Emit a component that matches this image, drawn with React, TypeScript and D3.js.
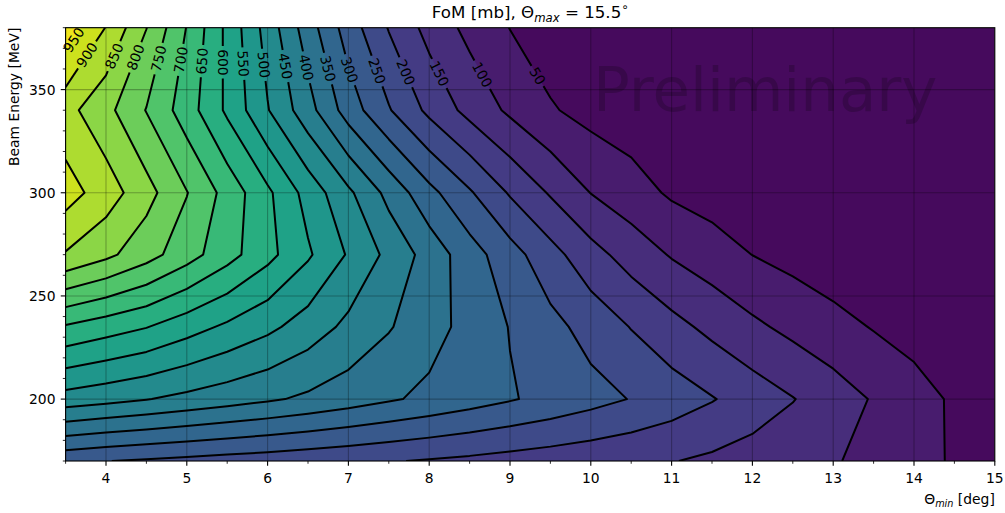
import React from "react";
import * as d3 from "d3";

// Grid of Θ_min (deg) columns and beam-energy (MeV) rows
const THETA = [3.5, 4.0, 4.5, 5.0, 5.5, 6.0, 6.5, 7.0, 7.5, 8.0, 8.5, 9.0, 9.5, 10.0, 10.5, 11.0, 11.5, 12.0, 12.5, 13.0, 13.5, 14.0, 14.5, 15.0];
const ENERGY = [170, 200, 235, 270, 300, 340, 380];

// FoM [mb] per energy row
const FOM_170 = [262, 251, 244, 237, 230, 224, 217, 210, 203, 196, 189, 181, 174, 167, 159, 152, 141, 129, 116, 104, 86, 66, 45, 30];
const FOM_200 = [479, 466, 452, 437, 422, 407, 391, 374, 356, 339, 322, 304, 286, 267, 248, 226, 203, 177, 152, 124, 96, 70, 43, 20];
const FOM_235 = [645, 623, 602, 571, 541, 512, 477, 438, 404, 369, 334, 298, 265, 232, 198, 166, 137, 110, 87, 67, 47, 31, 22, 15];
const FOM_270 = [846, 812, 770, 721, 669, 615, 557, 495, 437, 380, 322, 270, 218, 168, 129, 96, 73, 49.5, 34, 19, 14, 11, 9, 8];
const FOM_300 = [922, 875, 818, 752, 682, 610, 531, 460, 385, 315, 256, 195, 145, 99, 71, 43, 29, 22, 18, 15, 13, 11, 10, 9];
const FOM_340 = [867, 815, 748, 674, 591, 503, 419, 327, 254, 188, 134, 91, 55, 33, 22, 17, 14, 12, 10, 9, 8, 7, 6, 6];
const FOM_380 = [985, 898, 801, 698, 588, 479, 374, 276, 197, 133, 86, 49, 22, 15, 11, 9, 8, 7, 6, 6, 5, 5, 4, 4];

const LEVELS = [0, 50, 100, 150, 200, 250, 300, 350, 400, 450, 500, 550, 600, 650, 700, 750, 800, 850, 900, 950, 1000];
const X_TICKS = [4, 5, 6, 7, 8, 9, 10, 11, 12, 13, 14, 15];
const X_MINOR = [3.5, 4.5, 5.5, 6.5, 7.5, 8.5, 9.5, 10.5, 11.5, 12.5, 13.5, 14.5];
const Y_TICKS = [200, 250, 300, 350];
const Y_MINOR = [170, 180, 190, 210, 220, 230, 240, 260, 270, 280, 290, 310, 320, 330, 340, 360, 370, 380];

const FONT = "DejaVu Sans, sans-serif";
const W = 1005, H = 513;
const PL = 65.6, PR = 994.8, PT = 27.7, PB = 461;
const FS = 13.89;

type P = { ix: number; iy: number; px: number; py: number };

export default function App() {
  const xS = d3.scaleLinear().domain([3.5, 15]).range([PL, PR]);
  const yS = d3.scaleLinear().domain([170, 380]).range([PB, PT]);
  const nx = THETA.length, ny = ENERGY.length;
  const grid = [FOM_170, FOM_200, FOM_235, FOM_270, FOM_300, FOM_340, FOM_380];
  const values = grid.flat();
  const thetaOf = d3.scaleLinear().domain(THETA.map((_, i) => i)).range(THETA);
  const energyOf = d3.scaleLinear().domain(ENERGY.map((_, i) => i)).range(ENERGY);
  const clampIdx = (v: number, n: number) => Math.max(0, Math.min(n - 1, v - 0.5));
  const mapPt = (p: number[]): P => {
    const ix = clampIdx(p[0], nx), iy = clampIdx(p[1], ny);
    return { ix, iy, px: xS(thetaOf(ix)), py: yS(energyOf(iy)) };
  };
  const gen = d3.contours().size([nx, ny]);
  const color = (t: number) => d3.interpolateViridis((t + 25) / 1000);
  const eps = 1e-6;
  const onBorder = (a: P, b: P) =>
    (a.ix < eps && b.ix < eps) || (a.ix > nx - 1 - eps && b.ix > nx - 1 - eps) ||
    (a.iy < eps && b.iy < eps) || (a.iy > ny - 1 - eps && b.iy > ny - 1 - eps);

  const ringLines = (ring: number[][]): P[][] => {
    let pts = ring.map(mapPt);
    const closed = ring.length > 1 && ring[0][0] === ring[ring.length - 1][0] && ring[0][1] === ring[ring.length - 1][1];
    if (closed) pts = pts.slice(0, -1);
    const n = pts.length;
    const segB: boolean[] = [];
    for (let i = 0; i < n; i++) segB.push(onBorder(pts[i], pts[(i + 1) % n]));
    const s = segB.findIndex((b) => b);
    if (s < 0) return [[...pts, pts[0]]];
    const out: P[][] = [];
    let cur: P[] | null = null;
    for (let k = 1; k <= n; k++) {
      const i = (s + k) % n;
      if (segB[i]) {
        if (cur && cur.length > 1) out.push(cur);
        cur = null;
      } else {
        if (!cur) cur = [pts[i]];
        cur.push(pts[(i + 1) % n]);
      }
    }
    if (cur && cur.length > 1) out.push(cur);
    return out;
  };

  const bands: { t: number; d: string; fill: string }[] = [];
  const lines: { t: number; polys: P[][] }[] = [];
  LEVELS.forEach((t) => {
    const c = gen.contour(values, t);
    let d = "";
    const polys: P[][] = [];
    c.coordinates.forEach((poly: number[][][]) => {
      poly.forEach((ring) => {
        const m = ring.map(mapPt);
        d += "M" + m.map((p) => `${p.px.toFixed(2)},${p.py.toFixed(2)}`).join("L") + "Z";
        polys.push(...ringLines(ring));
      });
    });
    if (d) bands.push({ t, d, fill: color(t) });
    if (polys.length) lines.push({ t, polys });
  });

  // contour labels: placed where each line crosses a height that rises slowly with the level
  const labels: { t: number; x: number; y: number; a: number; w: number }[] = [];
  lines.forEach(({ t, polys }) => {
    const yl = yS(356 + 0.012 * t);
    let found: { x: number; y: number; a: number } | null = null;
    for (const pl of polys) {
      for (let i = 0; i < pl.length - 1 && !found; i++) {
        const a = pl[i], b = pl[i + 1];
        if ((a.py - yl) * (b.py - yl) <= 0 && a.py !== b.py) {
          const f = (yl - a.py) / (b.py - a.py);
          found = { x: a.px + f * (b.px - a.px), y: yl, a: Math.atan2(b.py - a.py, b.px - a.px) };
        }
      }
      if (found) break;
    }
    if (!found) {
      const top = polys.slice().sort((p, q) => d3.mean(p, (d) => d.py)! - d3.mean(q, (d) => d.py)!)[0];
      if (!(top[0].py < yS(350))) return;
      const k = Math.max(0, Math.floor((top.length - 1) / 2));
      const a = top[k], b = top[Math.min(top.length - 1, k + 1)];
      found = { x: (a.px + b.px) / 2, y: (a.py + b.py) / 2, a: Math.atan2(b.py - a.py, b.px - a.px) };
    }
    let deg = (found.a * 180) / Math.PI;
    while (deg > 90) deg -= 180;
    while (deg <= -90) deg += 180;
    const w = String(t).length * 0.636 * FS;
    labels.push({ t, x: found.x, y: found.y, a: deg, w });
  });

  const lineGen = (pl: P[]) => "M" + pl.map((p) => `${p.px.toFixed(2)},${p.py.toFixed(2)}`).join("L");

  const majLen = 4.86, minLen = 2.78;

  return (
    <svg width={W} height={H} style={{ position: "absolute", left: 0, top: 0, background: "#fff" }} fontFamily={FONT}>
      <defs>
        <clipPath id="plotclip">
          <rect x={PL} y={PT} width={PR - PL} height={PB - PT} />
        </clipPath>
        <mask id="lblmask" maskUnits="userSpaceOnUse" x={0} y={0} width={W} height={H}>
          <rect x={0} y={0} width={W} height={H} fill="white" />
          {labels.map((l) => (
            <rect key={l.t} x={-(l.w + 6) / 2} y={-7} width={l.w + 6} height={14} fill="black"
              transform={`translate(${l.x},${l.y}) rotate(${l.a})`} />
          ))}
        </mask>
      </defs>
      <rect x={0} y={0} width={W} height={H} fill="#fff" />
      <g clipPath="url(#plotclip)">
        {bands.map((b) => (
          <path key={b.t} d={b.d} fill={b.fill} fillRule="evenodd" />
        ))}
        {X_TICKS.map((t) => (
          <line key={"gx" + t} x1={xS(t)} x2={xS(t)} y1={PT} y2={PB} stroke="#000" strokeOpacity={0.28} strokeWidth={1.1} />
        ))}
        {Y_TICKS.map((t) => (
          <line key={"gy" + t} x1={PL} x2={PR} y1={yS(t)} y2={yS(t)} stroke="#000" strokeOpacity={0.28} strokeWidth={1.1} />
        ))}
        <g mask="url(#lblmask)">
          {lines.map(({ t, polys }) =>
            polys.map((pl, i) => (
              <path key={t + "-" + i} d={lineGen(pl)} fill="none" stroke="#000" strokeWidth={2} strokeLinejoin="round" />
            ))
          )}
        </g>
      </g>
      {labels.map((l) => (
        <text key={"l" + l.t} x={0} y={0} fontSize={FS} textAnchor="middle" dominantBaseline="central"
          transform={`translate(${l.x},${l.y}) rotate(${l.a})`} fill="#000">
          {l.t}
        </text>
      ))}
      <text x={593} y={111} fontSize={61} fill="#000" fillOpacity={0.2}>Preliminary</text>

      {/* spines */}
      <rect x={PL} y={PT} width={PR - PL} height={PB - PT} fill="none" stroke="#000" strokeWidth={1.1} />
      {/* x ticks */}
      {X_TICKS.map((t) => (
        <g key={"xt" + t}>
          <line x1={xS(t)} x2={xS(t)} y1={PB} y2={PB + majLen} stroke="#000" strokeWidth={1.1} />
          <text x={xS(t)} y={483} fontSize={FS} textAnchor="middle">{t}</text>
        </g>
      ))}
      {X_MINOR.map((t) => (
        <line key={"xm" + t} x1={xS(t)} x2={xS(t)} y1={PB} y2={PB + minLen} stroke="#000" strokeWidth={0.83} />
      ))}
      {Y_TICKS.map((t) => (
        <g key={"yt" + t}>
          <line x1={PL - majLen} x2={PL} y1={yS(t)} y2={yS(t)} stroke="#000" strokeWidth={1.1} />
          <text x={55.5} y={yS(t) + 5} fontSize={FS} textAnchor="end">{t}</text>
        </g>
      ))}
      {Y_MINOR.map((t) => (
        <line key={"ym" + t} x1={PL - minLen} x2={PL} y1={yS(t)} y2={yS(t)} stroke="#000" strokeWidth={0.83} />
      ))}
      {/* axis labels */}
      <text x={PR} y={504} fontSize={FS} textAnchor="end" style={{ whiteSpace: "pre" }}>
        Θ<tspan fontStyle="italic" fontSize={9.7} dy={3}>min</tspan><tspan dy={-3}>{" [deg]"}</tspan>
      </text>
      <text transform={`translate(19,${PT}) rotate(-90)`} fontSize={FS} textAnchor="end">Beam Energy [MeV]</text>
      {/* title */}
      <text x={(PL + PR) / 2} y={18} fontSize={16.67} textAnchor="middle" style={{ whiteSpace: "pre" }}>
        {"FoM [mb], Θ"}<tspan fontStyle="italic" fontSize={11.67} dy={3.5}>max</tspan><tspan dy={-3.5}>{" = 15.5"}</tspan><tspan fontSize={11.67} dy={-7}>∘</tspan>
      </text>
    </svg>
  );
}
